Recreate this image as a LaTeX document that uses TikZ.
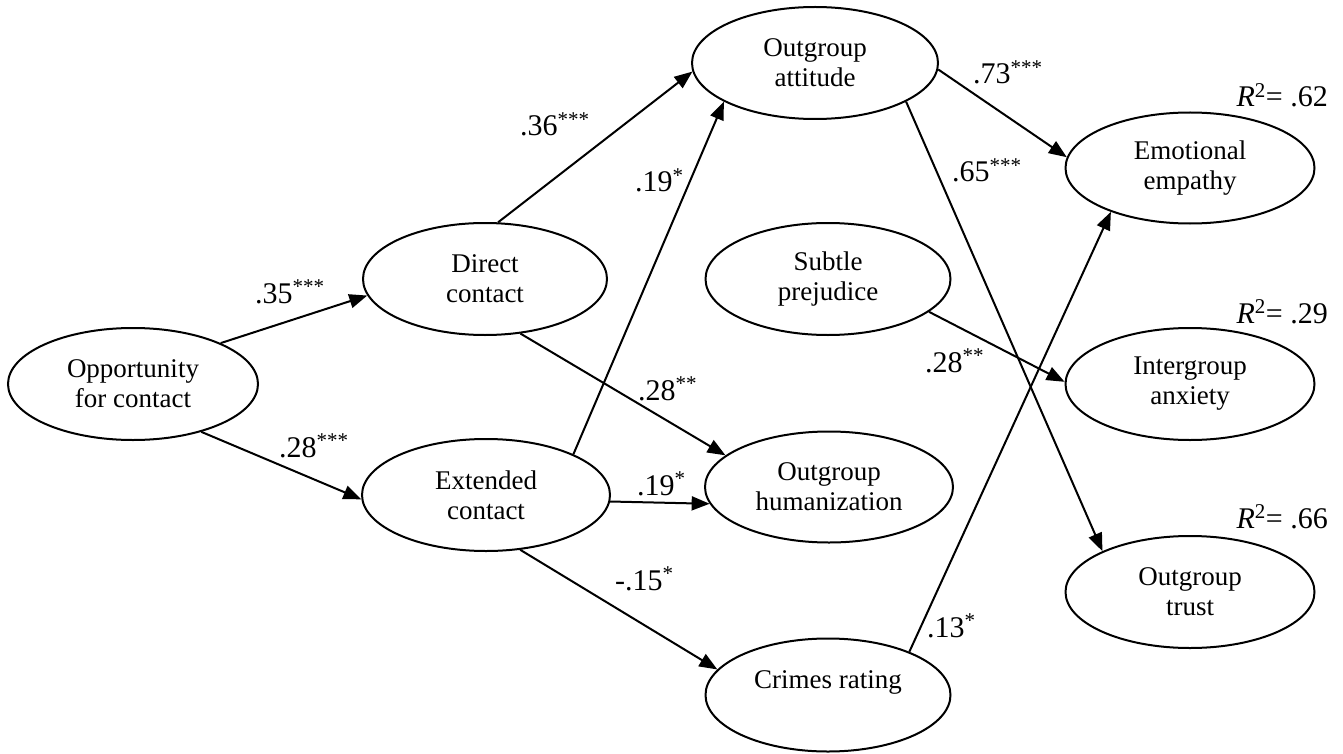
\documentclass[tikz,border=0pt]{standalone}
\usepackage{fontspec}
\setmainfont{Liberation Serif}
\usetikzlibrary{arrows.meta,shapes.geometric}
\begin{document}
\begin{tikzpicture}[x=1pt,y=-1pt,
  txt/.style={font=\fontsize{27}{30}\selectfont},
  labtxt/.style={font=\fontsize{30}{33}\selectfont},
  var/.style={txt,draw,ellipse,line width=2pt,inner sep=0pt,minimum width=246pt,minimum height=112pt,align=center},
  arr/.style={line width=2pt,-{Triangle[length=18pt,width=14pt]}},
  lab/.style={labtxt,anchor=base west,inner sep=0pt},
  rsq/.style={labtxt,anchor=base east,inner sep=0pt}]
\useasboundingbox (0,0) rectangle (1343,754);
% variables
\node[var,minimum width=250pt] (opp) at (133,384) {Opportunity\\for contact};
\node[var,minimum width=244pt] (direct) at (485,279) {Direct\\contact};
\node[var,minimum width=248pt] (ext) at (486,495) {Extended\\contact};
\node[var] (att) at (815,63) {Outgroup\\attitude};
\node[var,minimum width=245pt] (subtle) at (828,279) {Subtle\\prejudice};
\node[var,minimum width=248pt,minimum height=111pt] (hum) at (829,487) {Outgroup\\humanization};
\node[var,minimum width=245pt,minimum height=113pt] (crimes) at (828,695) {Crimes rating\\\mbox{}};
\node[var,minimum width=249pt,minimum height=111pt] (emp) at (1190,168) {Emotional\\empathy};
\node[var,minimum width=249pt] (anx) at (1190,384) {Intergroup\\anxiety};
\node[var,minimum width=249pt] (trust) at (1190,592) {Outgroup\\trust};
% paths
\draw[arr] (opp.25) -- (direct.188);
\draw[arr] (opp.-35) -- (ext.182);
\draw[arr] (direct.77) -- (att.184);
\draw[arr] (ext.25) -- (att.203);
\draw[arr] (direct.-57) -- (hum.163);
\draw[arr] (ext.-3.7) -- (hum.188);
\draw[arr] (ext.-58) -- (crimes.167);
\draw[arr] (att.-3) -- (emp.175);
\draw[arr] (att.-23) -- (trust.155);
\draw[arr] (subtle.-18) -- (anx.179);
\draw[arr] (crimes.28) -- (emp.209);
% coefficients
\node[lab] (l35) at (255,303) {.35\textsuperscript{***}};
\node[lab] (l28a) at (279,457) {.28\textsuperscript{***}};
\node[lab] (l36) at (520,136) {.36\textsuperscript{***}};
\node[lab] (l19a) at (635,192) {.19\textsuperscript{*}};
\node[lab] (l28b) at (638,400) {.28\textsuperscript{**}};
\node[lab] (l19b) at (637,495) {.19\textsuperscript{*}};
\node[lab] (l15) at (615,590) {-.15\textsuperscript{*}};
\node[lab] (l73) at (973,84) {.73\textsuperscript{***}};
\node[lab] (l65) at (952,182) {.65\textsuperscript{***}};
\node[lab] (l28c) at (925,372) {.28\textsuperscript{**}};
\node[lab] (l13) at (927,637) {.13\textsuperscript{*}};
% R squared
\node[rsq] (r62) at (1328,107) {\textit{R}\textsuperscript{2}= .62};
\node[rsq] (r29) at (1328,323) {\textit{R}\textsuperscript{2}= .29};
\node[rsq] (r66) at (1328,528) {\textit{R}\textsuperscript{2}= .66};
\end{tikzpicture}
\end{document}
